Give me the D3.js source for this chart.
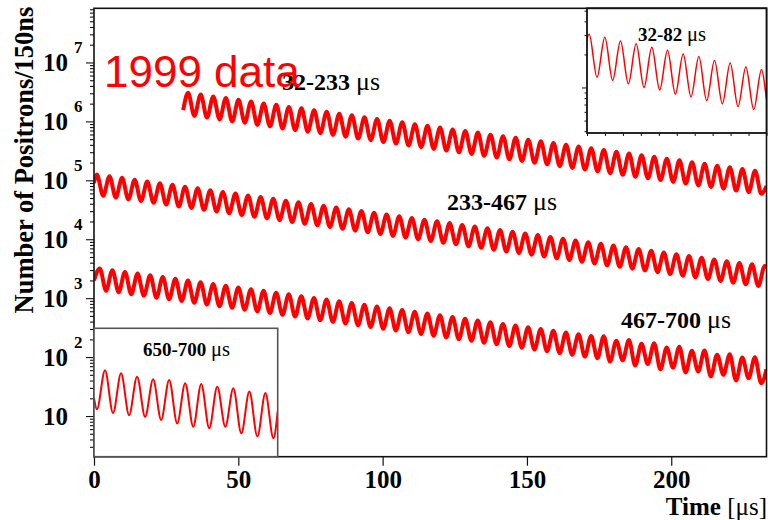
<!DOCTYPE html>
<html><head><meta charset="utf-8">
<script src="https://cdn.jsdelivr.net/npm/d3@7"></script>
<style>body{margin:0;background:#fff}svg{display:block}</style>
</head><body>
<svg id="c" width="768" height="520"></svg>
<script>
// ---------------- data ----------------
const periodUs = 4.365;                 // wiggle period, microseconds
const xDomain = [0, 233];
const yDomain = [2.04, 8.3e7];
const xTickValues = [0, 50, 100, 150, 200];
const yTickValues = [1e1, 1e2, 1e3, 1e4, 1e5, 1e6, 1e7];
const yTickExponents = ["", "2", "3", "4", "5", "6", "7"];

// 32-233 us
const curve1Start = [[30.9, 1.55e6]];
const curve1FirstPeak = 32.6;
const curve1Peaks = [3.05e6,2.86e6,2.65e6,2.50e6,2.32e6,2.18e6,2.02e6,1.91e6,1.76e6,1.67e6,1.54e6,1.46e6,1.35e6,1.27e6,1.17e6,1.10e6,1.03e6,9.7e5,8.9e5,8.4e5,7.9e5,7.3e5,6.9e5,6.45e5,5.95e5,5.6e5,5.3e5,4.9e5,4.6e5,4.3e5,4.0e5,3.76e5,3.5e5,3.27e5,3.04e5,2.86e5,2.65e5,2.5e5,2.32e5,2.18e5,2.02e5,1.91e5,1.77e5,1.67e5,1.55e5,1.46e5];
const curve1Troughs = [1.24e6,1.16e6,1.08e6,1.0e6,9.5e5,8.7e5,8.2e5,7.6e5,7.1e5,6.7e5,6.3e5,5.9e5,5.5e5,5.1e5,4.8e5,4.45e5,4.2e5,3.9e5,3.65e5,3.4e5,3.2e5,2.98e5,2.8e5,2.6e5,2.43e5,2.27e5,2.13e5,1.98e5,1.86e5,1.74e5,1.62e5,1.52e5,1.42e5,1.32e5,1.24e5,1.15e5,1.08e5,1.01e5,9.4e4,8.8e4,8.2e4,7.7e4,7.2e4,6.7e4,6.3e4,5.9e4];
const curve1End = [[233, 8.0e4]];

// 233-467 us (shifted to 0-233)
const curve2Start = [[0, 9.0e4]];
const curve2FirstPeak = 1.0;
const curve2Peaks = [1.25e5,1.17e5,1.10e5,1.02e5,9.5e4,8.9e4,8.4e4,7.8e4,7.3e4,6.8e4,6.35e4,5.95e4,5.55e4,5.2e4,4.85e4,4.5e4,4.25e4,3.95e4,3.7e4,3.45e4,3.22e4,3.02e4,2.82e4,2.63e4,2.46e4,2.3e4,2.15e4,2.02e4,1.88e4,1.75e4,1.64e4,1.54e4,1.43e4,1.34e4,1.25e4,1.18e4,1.09e4,1.02e4,9.5e3,8.9e3,8.35e3,7.8e3,7.3e3,6.85e3,6.35e3,5.95e3,5.55e3,5.2e3,4.85e3,4.55e3,4.25e3,3.95e3,3.75e3,3.5e3];
const curve2Troughs = [5.45e4,5.1e4,4.75e4,4.45e4,4.15e4,3.87e4,3.6e4,3.4e4,3.17e4,2.96e4,2.76e4,2.57e4,2.41e4,2.26e4,2.11e4,1.96e4,1.83e4,1.72e4,1.61e4,1.5e4,1.4e4,1.31e4,1.23e4,1.14e4,1.07e4,1.0e4,9.35e3,8.7e3,8.2e3,7.6e3,7.15e3,6.65e3,6.2e3,5.85e3,5.45e3,5.1e3,4.75e3,4.45e3,4.15e3,3.87e3,3.6e3,3.4e3,3.17e3,2.96e3,2.76e3,2.57e3,2.41e3,2.26e3,2.11e3,1.96e3,1.83e3,1.72e3,1.61e3];
const curve2End = [[233, 3.2e3]];

// 467-700 us (shifted to 0-233)
const curve3Start = [[0, 2.0e3]];
const curve3FirstPeak = 2.0;
const curve3Peaks = [3.2e3,2.99e3,2.79e3,2.61e3,2.44e3,2.28e3,2.13e3,1.99e3,1.86e3,1.74e3,1.63e3,1.52e3,1.42e3,1.33e3,1.24e3,1.16e3,1.08e3,1.01e3,946,884,826,772,721,674,630,588,550,514,480,449,419,392,366,342,320,299,279,261,244,228,225,190,195,168,172,145,150,128,130,110,112,98,99];
const curve3Troughs = [1.34e3,1.26e3,1.17e3,1.10e3,1.02e3,958,895,836,781,731,685,638,596,559,521,487,454,424,397,371,347,324,303,283,265,247,231,216,202,189,176,165,154,144,134,126,117,110,102,96,84,88,72,76,62,66,55,57,47,50,40,44,36];
const curve3End = [[233, 62]];

// inset 650-700 us
const inset2Start = [[650, 20], [650.8, 13]];
const inset2FirstPeak = 653.0;
const inset2Peaks = [60, 53, 46.5, 42, 41, 36, 35, 31.5, 29.5, 26, 24.5];
const inset2Troughs = [11.2, 10.4, 9.7, 8.6, 7.5, 6.6, 6.2, 6.6, 5.1, 4.5, 4.2];
const inset2End = [[700, 12]];

// inset 32-82 us axes
const inset1XDomain = [32, 82];
const inset1YDomain = [3.85e5, 5.26e6];
const inset1XTicks = [32, 37, 42, 47, 52, 57, 62, 67, 72, 77, 82];
const inset2XDomain = [650, 700];

// ---------------- drawing ----------------
const svg = d3.select("#c");
const SERIF = "'Liberation Serif','Times New Roman',serif";
const RED = "#ff0000";
const M = {left: 94, right: 766.5, top: 8.3, bottom: 456.7};

const x = d3.scaleLinear().domain(xDomain).range([M.left, M.right]);
const y = d3.scaleLog().domain(yDomain).range([M.bottom, M.top]);

function wiggle(start, firstPeak, peaks, troughs, end) {
  const pts = start.slice();
  peaks.forEach((p, k) => {
    pts.push([firstPeak + k * periodUs, p]);
    if (k < troughs.length) pts.push([firstPeak + (k + 0.5) * periodUs, troughs[k]]);
  });
  return pts.concat(end);
}

const defs = svg.append("defs");
defs.append("clipPath").attr("id", "mainClip").append("rect")
  .attr("x", M.left).attr("y", M.top).attr("width", M.right - M.left).attr("height", M.bottom - M.top);

const mainLine = d3.line().x(d => x(d[0])).y(d => y(d[1])).curve(d3.curveMonotoneX);
const gCurves = svg.append("g").attr("clip-path", "url(#mainClip)");
const c1 = wiggle(curve1Start, curve1FirstPeak, curve1Peaks, curve1Troughs, curve1End);
const c2 = wiggle(curve2Start, curve2FirstPeak, curve2Peaks, curve2Troughs, curve2End);
const c3 = wiggle(curve3Start, curve3FirstPeak, curve3Peaks, curve3Troughs, curve3End);
[c1, c2, c3].forEach(c => {
  gCurves.append("path").attr("d", mainLine(c)).attr("fill", "none")
    .attr("stroke", RED).attr("stroke-width", 4).attr("stroke-linejoin", "round");
});

// frame
svg.append("rect").attr("x", M.left).attr("y", M.top).attr("width", M.right - M.left)
  .attr("height", M.bottom - M.top).attr("fill", "none").attr("stroke", "#111").attr("stroke-width", 1.6);

// x axis
const xAxis = svg.append("g").attr("transform", `translate(0,${M.bottom})`)
  .call(d3.axisBottom(x).tickValues(xTickValues).tickSize(9).tickPadding(5).tickFormat(d3.format("d")));
xAxis.select(".domain").remove();
xAxis.selectAll("line").attr("stroke", "#111").attr("stroke-width", 1.2);
xAxis.selectAll("text").attr("font-family", SERIF).attr("font-weight", "bold").attr("font-size", 25).attr("fill", "#000");

// y axis (log ticks from the scale)
const yAxis = svg.append("g").attr("transform", `translate(${M.left},0)`)
  .call(d3.axisLeft(y).tickValues(y.ticks()).tickSize(4).tickFormat(""));
yAxis.select(".domain").remove();
yAxis.selectAll(".tick line").attr("stroke", "#111").attr("stroke-width", 1.1)
  .attr("x2", d => yTickValues.includes(d) ? -8 : -4);

// y tick labels
yTickValues.forEach((v, i) => {
  const ty = y(v);
  svg.append("text").attr("x", 68).attr("y", ty + 9).attr("text-anchor", "end")
    .attr("font-family", SERIF).attr("font-weight", "bold").attr("font-size", 25).text("10");
  if (yTickExponents[i]) {
    svg.append("text").attr("x", 74).attr("y", ty - 9)
      .attr("font-family", SERIF).attr("font-weight", "bold").attr("font-size", 17).text(yTickExponents[i]);
  }
});

// axis titles
svg.append("text").attr("transform", "translate(33,160) rotate(-90)").attr("text-anchor", "middle")
  .attr("font-family", SERIF).attr("font-weight", "bold").attr("font-size", 26.5).text("Number of Positrons/150ns");
const tt = svg.append("text").attr("x", 767).attr("y", 515).attr("text-anchor", "end")
  .attr("font-family", SERIF).attr("font-size", 25);
tt.append("tspan").attr("font-weight", "bold").text("Time ");
tt.append("tspan").text("[μs]");

// range labels
function rangeLabel(xp, yp, txt, size) {
  const t = svg.append("text").attr("x", xp).attr("y", yp).attr("font-family", SERIF).attr("font-size", size);
  t.append("tspan").attr("font-weight", "bold").text(txt + " ");
  t.append("tspan").attr("font-size", size * 1.08).text("μs");
}
rangeLabel(282, 90, "32-233", 24);
rangeLabel(447, 210, "233-467", 24);
rangeLabel(621, 328, "467-700", 24);

// ---------------- inset 32-82 us ----------------
const I1 = {left: 587, right: 766.5, top: 8.3, bottom: 133};
const x1 = d3.scaleLinear().domain(inset1XDomain).range([I1.left, I1.right]);
const y1 = d3.scaleLog().domain(inset1YDomain).range([I1.bottom, I1.top]);
svg.append("rect").attr("x", I1.left).attr("y", I1.top).attr("width", I1.right - I1.left)
  .attr("height", I1.bottom - I1.top).attr("fill", "#fff");
defs.append("clipPath").attr("id", "i1Clip").append("rect")
  .attr("x", I1.left).attr("y", I1.top).attr("width", I1.right - I1.left).attr("height", I1.bottom - I1.top);
const line1 = d3.line().x(d => x1(d[0])).y(d => y1(d[1])).curve(d3.curveMonotoneX);
svg.append("g").attr("clip-path", "url(#i1Clip)").append("path")
  .attr("d", line1(c1.filter(d => d[0] >= 28 && d[0] <= 86))).attr("fill", "none")
  .attr("stroke", RED).attr("stroke-width", 1.5);
svg.append("rect").attr("x", I1.left).attr("y", I1.top).attr("width", I1.right - I1.left)
  .attr("height", I1.bottom - I1.top).attr("fill", "none").attr("stroke", "#111").attr("stroke-width", 1.8);
const i1x = svg.append("g").attr("transform", `translate(0,${I1.bottom})`)
  .call(d3.axisBottom(x1).tickValues(inset1XTicks).tickSize(3).tickFormat(""));
i1x.select(".domain").remove();
i1x.selectAll("line").attr("stroke", "#111");
const i1y = svg.append("g").attr("transform", `translate(${I1.left},0)`)
  .call(d3.axisLeft(y1).tickValues(y1.ticks()).tickSize(2.5).tickFormat(""));
i1y.select(".domain").remove();
i1y.selectAll(".tick line").attr("stroke", "#111").attr("x2", d => d === 1e6 ? -5 : -2.5);
rangeLabel(638, 41, "32-82", 19);

// ---------------- inset 650-700 us ----------------
const I2 = {left: 94, right: 277.7, top: 328.3, bottom: 456.7};
const x2 = d3.scaleLinear().domain(inset2XDomain).range([I2.left, I2.right]);
svg.append("rect").attr("x", I2.left).attr("y", I2.top).attr("width", I2.right - I2.left)
  .attr("height", I2.bottom - I2.top).attr("fill", "#fff");
defs.append("clipPath").attr("id", "i2Clip").append("rect")
  .attr("x", I2.left).attr("y", I2.top).attr("width", I2.right - I2.left).attr("height", I2.bottom - I2.top);
const line2 = d3.line().x(d => x2(d[0])).y(d => y(d[1])).curve(d3.curveMonotoneX);
svg.append("g").attr("clip-path", "url(#i2Clip)").append("path")
  .attr("d", line2(wiggle(inset2Start, inset2FirstPeak, inset2Peaks, inset2Troughs, inset2End)))
  .attr("fill", "none").attr("stroke", RED).attr("stroke-width", 2);
svg.append("rect").attr("x", I2.left).attr("y", I2.top).attr("width", I2.right - I2.left)
  .attr("height", I2.bottom - I2.top).attr("fill", "none").attr("stroke", "#555").attr("stroke-width", 1.6);
rangeLabel(143, 356, "650-700", 19);

// big red title
svg.append("text").attr("x", 104).attr("y", 87).attr("font-family", "'Liberation Sans',Arial,sans-serif")
  .attr("font-size", 44).attr("fill", RED).text("1999 data");
</script>
</body></html>
